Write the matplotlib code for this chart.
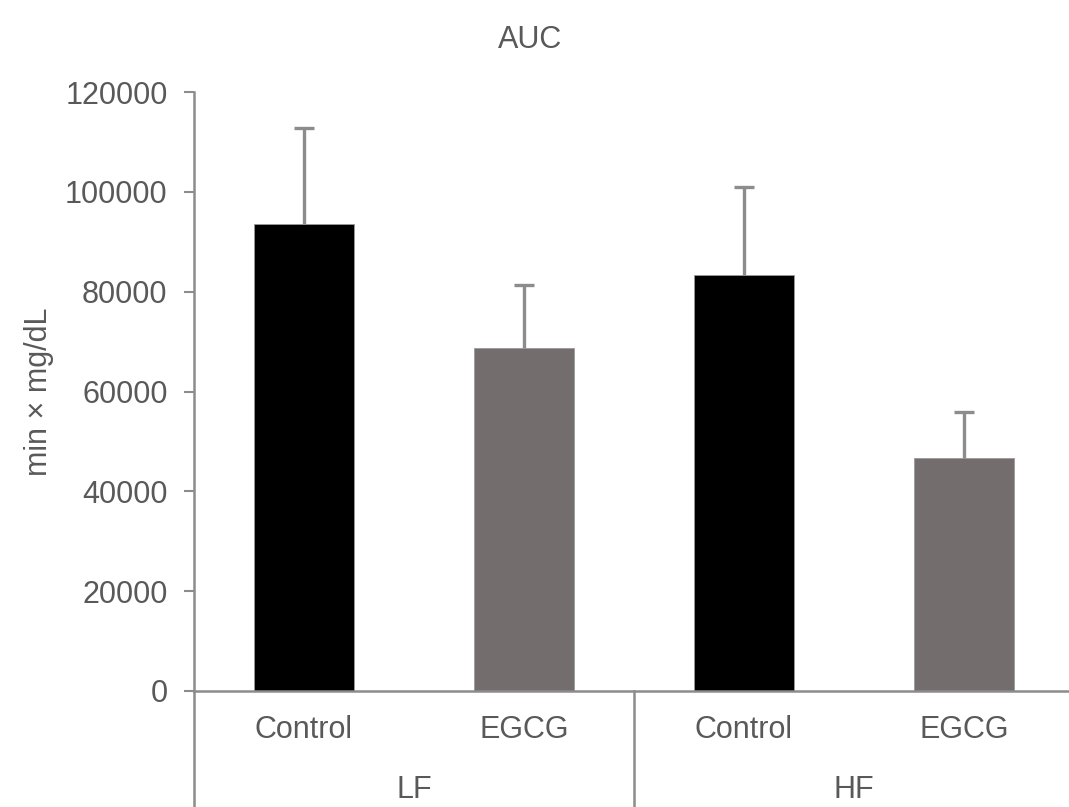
import matplotlib
matplotlib.use("Agg")
import matplotlib.pyplot as plt
import numpy as np

# ====================== DATA ======================
groups = ['LF', 'HF']
treatments = ['Control', 'EGCG', 'Control', 'EGCG']
auc_mean = [93500, 68800, 83400, 46700]
auc_sd = [19300, 12600, 17600, 9200]
bar_colors = ['#000000', '#736e6d', '#000000', '#736e6d']

text_col = '#595959'
axis_col = '#8c8c8c'
plt.rcParams['font.family'] = ['Liberation Sans', 'DejaVu Sans']

fig = plt.figure(figsize=(10.69, 8.07), dpi=100)
# axes placed in pixel terms of the reference (left spine x=194, zero line y=691, top y=92)
ax = fig.add_axes([194 / 1069, 1 - 691 / 807, 880 / 1069, 599 / 807])

x = np.arange(len(treatments))
mean = np.array(auc_mean)
top = mean + np.array(auc_sd)
ax.bar(x, mean, width=0.455, color=bar_colors, edgecolor='#9a9a9a', linewidth=0.6, zorder=2)
# upper-only error bars, cap only at the top
ax.vlines(x, mean, top, colors=axis_col, linewidth=2.4, zorder=3)
ax.plot(x, top, linestyle='none', marker='_', markersize=14, markeredgewidth=2.4,
        color=axis_col, zorder=3)

ax.set_xlim(-0.5, 3.5)
ax.set_ylim(0, 120000)
ax.set_yticks(np.arange(0, 120001, 20000))
ax.tick_params(axis='y', colors=axis_col, labelcolor=text_col, labelsize=22,
               length=7, width=1.5, pad=12)
ax.set_xticks([])

for s in ['top', 'right']:
    ax.spines[s].set_visible(False)
ax.spines['left'].set_color(axis_col)
ax.spines['bottom'].set_color(axis_col)
ax.spines['left'].set_linewidth(1.8)
ax.spines['bottom'].set_linewidth(1.8)

ax.set_ylabel('min × mg/dL', fontsize=22, color=text_col, labelpad=8)
fig.text(530 / 1069, 1 - 40 / 807, 'AUC', fontsize=22, color=text_col,
         ha='center', va='center')

# hierarchical category axis below the plot
trans = ax.get_xaxis_transform()
below = -116 / 599
ax.plot([-0.5, -0.5], [0, below], transform=trans, color=axis_col, lw=1.8, clip_on=False)
ax.plot([1.5, 1.5], [0, below], transform=trans, color=axis_col, lw=1.8, clip_on=False)
for xi, lab in zip(x, treatments):
    ax.text(xi, -39 / 599, lab, transform=trans, ha='center', va='center',
            fontsize=22, color=text_col)
for gi, g in enumerate(groups):
    ax.text(gi * 2 + 0.5, -99 / 599, g, transform=trans, ha='center', va='center',
            fontsize=22, color=text_col)

plt.savefig('out.png', dpi=100)
plt.close()
